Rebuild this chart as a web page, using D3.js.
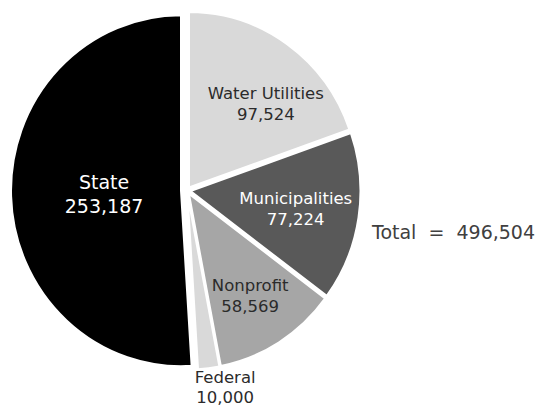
<!DOCTYPE html>
<html>
<head>
<meta charset="utf-8">
<script src="https://cdn.jsdelivr.net/npm/d3@7/dist/d3.min.js"></script>
<style>
  html, body { margin: 0; padding: 0; background: #fff; }
  svg { display: block; font-family: "DejaVu Sans", Verdana, sans-serif; }
</style>
</head>
<body>
<svg id="chart" width="556" height="407"></svg>
<script>
// Funding by source
const categories = ["Water Utilities", "Municipalities", "Nonprofit", "Federal", "State"];
const amounts    = [97524, 77224, 58569, 10000, 253187];
const totalLabel = "Total";

const fills      = ["#d9d9d9", "#595959", "#a6a6a6", "#d9d9d9", "#000000"];
const labelInk   = ["#2b2b2b", "#ffffff", "#2b2b2b", "#2b2b2b", "#ffffff"];

const width = 556, height = 407;
const cx = 187, cy = 190.5;
const rx = 170, yStretch = 175.5 / 170;

const fmt = d3.format(",");
const total = d3.sum(amounts);

const data = categories.map((c, i) => ({ name: c, value: amounts[i], i }));

const pie = d3.pie().sort(null).value(d => d.value).startAngle(0).endAngle(2 * Math.PI);
const arcs = pie(data);
const arc = d3.arc().innerRadius(0).outerRadius(rx);

// how far each slice is pulled out from the centre
const explode = d => d.data.name === "State" ? 6 : 3.5;
// label placement: [angle shift in degrees, distance from centre, font size]
const labelSpot = {
  "Water Utilities": [7.4, 116, 16.5],
  "Municipalities":  [0, 110, 16.5],
  "Nonprofit":       [0, 119, 16.5],
  "Federal":         [-4.2, 193, 16.5],
  "State":           [0, 83, 19]
};

const svg = d3.select("#chart");
const g = svg.append("g")
  .attr("transform", `translate(${cx},${cy}) scale(1,${yStretch})`);

const mid = d => (d.startAngle + d.endAngle) / 2;

g.selectAll("path.slice")
  .data(arcs)
  .join("path")
  .attr("class", "slice")
  .attr("d", arc)
  .attr("transform", d => {
    const a = mid(d), e = explode(d);
    return `translate(${e * Math.sin(a)},${-e * Math.cos(a)})`;
  })
  .attr("fill", d => fills[d.data.i])
  .attr("stroke", "#fff")
  .attr("stroke-width", 2);

// slice labels: name on the first line, amount on the second
const labels = svg.append("g").selectAll("text.lbl")
  .data(arcs)
  .join("text")
  .attr("class", "lbl")
  .attr("text-anchor", "middle")
  .attr("fill", d => labelInk[d.data.i])
  .attr("font-size", d => labelSpot[d.data.name][2])
  .attr("transform", d => {
    const [shift, dist] = labelSpot[d.data.name];
    const a = mid(d) + shift * Math.PI / 180;
    const x = cx + dist * Math.sin(a);
    const y = cy - dist * Math.cos(a) * yStretch;
    return `translate(${x},${y})`;
  });

labels.append("tspan")
  .attr("x", 0)
  .attr("dy", "-0.2em")
  .text(d => d.data.name);
labels.append("tspan")
  .attr("x", 0)
  .attr("dy", "1.25em")
  .text(d => fmt(d.data.value));

svg.append("text")
  .attr("x", 372)
  .attr("y", 239)
  .attr("fill", "#404040")
  .attr("font-size", 19)
  .style("white-space", "pre")
  .text(`${totalLabel}  =  ${fmt(total)}`);
</script>
</body>
</html>
